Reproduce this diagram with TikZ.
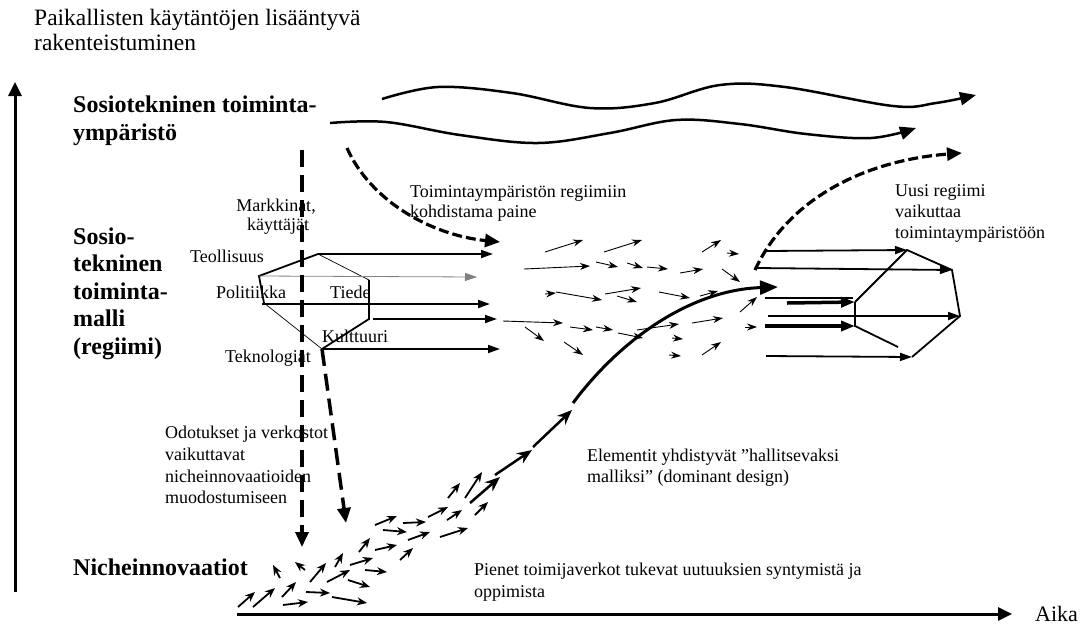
\documentclass[tikz,border=0pt]{standalone}
\usepackage{fontspec}
\setmainfont{Liberation Serif}
\usetikzlibrary{arrows.meta}
\begin{document}
\begin{tikzpicture}[x=1pt,y=-1pt,
  tit/.style={inner sep=0pt,anchor=base west,font=\fontsize{23.5}{25}\selectfont},
  bld/.style={inner sep=0pt,anchor=base west,font=\fontsize{24}{27.5}\selectfont\bfseries},
  txt/.style={inner sep=0pt,anchor=base west,font=\fontsize{18}{21.5}\selectfont},
  txtc/.style={inner sep=0pt,anchor=base,font=\fontsize{18}{21.5}\selectfont},
  axis/.style={line width=3pt,-{Triangle[length=14pt,width=13pt]}},
  wave/.style={line width=2.5pt,-{Triangle[length=16pt,width=13pt]}},
  dsh/.style={line width=3.5pt,dash pattern=on 17pt off 8pt,-{Triangle[length=15pt,width=13pt]}},
  dcurve/.style={line width=3.2pt,dash pattern=on 10pt off 4pt,-{Triangle[length=15pt,width=13pt]}},
  harr/.style={line width=1.8pt,-{Triangle[length=12pt,width=8pt]}},
  harrthick/.style={line width=3.5pt,-{Triangle[length=14pt,width=10pt]}},
  sm/.style={line width=0.9pt,-{Stealth[length=10pt,width=7pt]}},
  bl/.style={line width=1.8pt,-{Stealth[length=10pt,width=8pt]}},
  ch/.style={line width=2.5pt,-{Stealth[length=15pt,width=12pt]}},
  hexe/.style={line width=1.8pt},
  hexthin/.style={line width=0.7pt}]
\useasboundingbox (0,0) rectangle (1090,625);

% ---------- texts ----------
\node[tit] (ti1) at (34,25) {Paikallisten käytäntöjen lisääntyvä};
\node[tit] (ti2) at (34,50) {rakenteistuminen};
\node[bld] (b1) at (73,112) {Sosiotekninen toiminta-};
\node[bld] (b2) at (73,140) {ympäristö};
\node[bld] (r1) at (73,244) {Sosio-};
\node[bld] (r2) at (73,271) {tekninen};
\node[bld] (r3) at (73,299) {toiminta-};
\node[bld] (r4) at (73,326) {malli};
\node[bld] (r5) at (73,354) {(regiimi)};
\node[bld] (n1) at (73,575) {Nicheinnovaatiot};

\node[txtc] (m1) at (276,211) {Markkinat,};
\node[txtc] (m2) at (278,230) {käyttäjät};
\node[txt] (p1) at (410,197) {Toimintaympäristön regiimiin};
\node[txt] (p2) at (410,217) {kohdistama paine};
\node[txt] (u1) at (895,196) {Uusi regiimi};
\node[txt] (u2) at (895,217) {vaikuttaa};
\node[txt] (u3) at (895,238) {toimintaympäristöön};
\node[txt] (teo) at (190,262) {Teollisuus};
\node[txt] (pol) at (216,298) {Politiikka};
\node[txt] (tie) at (330,298) {Tiede};
\node[txt] (kul) at (322,342) {Kulttuuri};
\node[txt] (tek) at (225,362) {Teknologiat};
\node[txt] (o1) at (165,438) {Odotukset ja verkostot};
\node[txt] (o2) at (165,460) {vaikuttavat};
\node[txt] (o3) at (165,482) {nicheinnovaatioiden};
\node[txt] (o4) at (165,503) {muodostumiseen};
\node[txt] (e1) at (587,461) {Elementit yhdistyvät ”hallitsevaksi};
\node[txt] (e2) at (587,482) {malliksi” (dominant design)};
\node[txt] (pi1) at (474,575) {Pienet toimijaverkot tukevat uutuuksien syntymistä ja};
\node[txt] (pi2) at (474,597) {oppimista};
\node[inner sep=0pt,anchor=base west,font=\fontsize{22}{25}\selectfont] (aika) at (1035,621) {Aika};

% ---------- axes ----------
\coordinate (vy0) at (15,592);
\coordinate (vy1) at (15,82);
\coordinate (hx0) at (237,614);
\coordinate (hx1) at (1012,614);
\draw[axis] (vy0) -- (vy1);
\draw[axis] (hx0) -- (hx1);

% ---------- wavy landscape lines ----------
\draw[wave] plot[smooth,tension=0.6] coordinates {(382,99) (438,87) (512,93) (590,108) (655,103) (720,85) (785,87) (893,106) (936,103) (976,95)};
\draw[wave] plot[smooth,tension=0.6] coordinates {(330,123) (386,122) (460,135) (538,143) (610,133) (676,120) (740,124) (806,134) (871,138) (916,128)};

% ---------- dashed pressure curves ----------
\coordinate (dl0) at (347,148);
\coordinate (dl1) at (500,242);
\draw[dcurve] (dl0) .. controls (370,200) and (430,235) .. (dl1);
\coordinate (dr0) at (755,270);
\coordinate (dr1) at (962,153);
\draw[dcurve] (dr0) .. controls (790,195) and (870,160) .. (dr1);

% ---------- left hexagon (regime) ----------
\coordinate (hT) at (318,254);
\coordinate (hLU) at (259,276);
\coordinate (hLL) at (264,303);
\coordinate (hB) at (322,349);
\coordinate (hRL) at (369,319);
\coordinate (hRU) at (369,280);
\draw[hexe] (hT) -- (hLU) -- (hLL);
\draw[hexthin] (hLL) -- (hB);
\draw[hexe] (hB) -- (hRL) -- (hRU);
\draw[hexthin] (hRU) -- (hT);
\coordinate (aT) at (493,254);
\coordinate (aLU) at (477,277);
\coordinate (aLL0) at (262,304);
\coordinate (aLL) at (490,304);
\coordinate (aRL0) at (373,319);
\coordinate (aRL) at (497,319);
\coordinate (aB) at (500,349);
\draw[harr] (hT) -- (aT);
\draw[line width=0.8pt,gray,-{Triangle[length=12pt,width=8pt]}] (hLU) -- (aLU);
\draw[harr] (aLL0) -- (aLL);
\draw[harr] (aRL0) -- (aRL);
\draw[harr] (hB) -- (aB);

% ---------- dashed vertical influences ----------
\coordinate (v1a) at (302,150);
\coordinate (v1b) at (302,547);
\draw[dsh] (v1a) -- (v1b);
\coordinate (v2b) at (346,523);
\draw[dsh] (hB) -- (v2b);

% ---------- right hexagon (new regime) ----------
\coordinate (kA) at (855,302);
\coordinate (kB) at (907,250);
\coordinate (kC) at (952,270);
\coordinate (kD) at (960,316);
\coordinate (kE) at (912,357);
\coordinate (kF) at (855,326);
\coordinate (kG) at (898,347);
\draw[hexe] (kA) -- (kB) -- (kC) -- (kD) -- (kE);
\draw[hexe] (kA) -- (kF) -- (kG);
\coordinate (s1) at (765,251);
\coordinate (s2) at (757,268);
\coordinate (s3) at (765,298);
\coordinate (s3e) at (853,298);
\coordinate (s4) at (787,303);
\coordinate (s5) at (768,316);
\coordinate (s6) at (765,326);
\coordinate (s7) at (766,356);
\draw[harr] (s1) -- (kB);
\draw[harr] (s2) -- (kC);
\draw[line width=1.8pt] (s3) -- (s3e);
\draw[harrthick] (s4) -- (kA);
\draw[harr] (s5) -- (kD);
\draw[harrthick] (s6) -- (kF);
\draw[harr] (s7) -- (kE);

% ---------- small arrows in the middle ----------
\foreach \xa/\ya/\xb/\yb in {545/252/583/240, 604/252/642/240, 702/252/721/240, 727/253/739/254,
  524/269/590/266, 596/262/618/267, 627/263/643/268, 647/267/668/269, 680/273/703/269, 722/269/740/282,
  545/294/556/293, 556/292/602/300, 605/294/641/288, 617/296/637/302, 659/292/690/298, 700/296/718/291,
  740/312/757/297, 503/321/563/323, 525/327/544/341, 570/327/593/330, 596/327/613/330, 618/333/643/338,
  637/330/679/324, 672/338/683/339, 692/323/723/318, 564/342/583/355, 669/355/681/356, 702/355/721/342,
  745/327/757/327}
  \draw[sm] (\xa,\ya) -- (\xb,\yb);

% ---------- niche arrows ----------
\foreach \xa/\ya/\xb/\yb in {238/607/255/592, 253/607/275/588, 282/597/296/582, 283/605/308/602,
  280/578/273/565, 305/570/295/562, 310/582/326/563, 306/592/330/593, 332/597/367/603, 327/582/350/570,
  335/567/343/553, 348/580/370/587, 350/565/373/558, 359/552/370/538, 365/570/387/572, 375/550/397/545,
  375/525/397/516, 383/530/407/532, 400/560/413/548, 403/523/426/522, 408/540/430/532, 428/517/448/507,
  447/520/462/510, 448/498/460/483, 440/537/468/528, 465/498/482/472, 475/515/488/502}
  \draw[bl] (\xa,\ya) -- (\xb,\yb);

% ---------- dominant design chain ----------
\coordinate (c0) at (470,503);
\coordinate (c1) at (500,477);
\coordinate (c2) at (495,475);
\coordinate (c3) at (532,450);
\coordinate (c4) at (533,447);
\coordinate (c5) at (572,410);
\coordinate (c6) at (573,403);
\coordinate (c7) at (778,287);
\draw[ch] (c0) -- (c1);
\draw[ch] (c2) -- (c3);
\draw[ch] (c4) -- (c5);
\draw[line width=3pt,-{Triangle[length=18pt,width=14pt]}] (c6) .. controls (620,340) and (690,290) .. (c7);
\end{tikzpicture}
\end{document}
